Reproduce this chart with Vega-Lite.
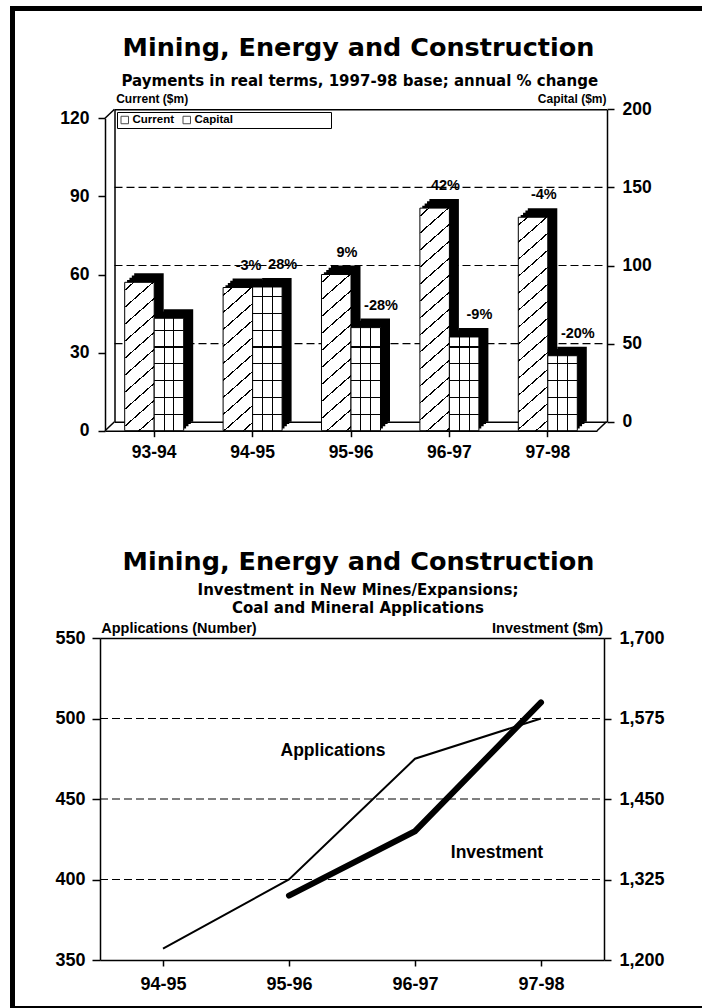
{
  "$schema": "https://vega.github.io/schema/vega-lite/v6.json",
  "autosize": {"type": "none"},
  "width": 690,
  "height": 1000,
  "padding": {"left": 12, "top": 8, "right": 0, "bottom": 0},
  "background": "white",
  "config": {
    "view": {"stroke": null},
    "axis": {"labelFont": "Liberation Sans", "labelFontWeight": "bold", "labelFontSize": 17.5, "labelColor": "black", "titleFont": "DejaVu Sans", "titleFontWeight": "bold", "titleColor": "black", "domainColor": "black", "domainWidth": 1.5, "tickColor": "black", "tickWidth": 1.5, "grid": false, "labelOverlap": false, "labelFlush": false, "labelBound": false, "titleAngle": 0},
    "text": {"font": "Liberation Sans", "fontWeight": "bold", "color": "black"}
  },
  "datasets": {
    "pay": [
      {"year": "93-94", "series": "Current", "value": 57, "pct": ""},
      {"year": "94-95", "series": "Current", "value": 55, "pct": "-3%"},
      {"year": "95-96", "series": "Current", "value": 60, "pct": "9%"},
      {"year": "96-97", "series": "Current", "value": 85.5, "pct": "42%"},
      {"year": "97-98", "series": "Current", "value": 82, "pct": "-4%"},
      {"year": "93-94", "series": "Capital", "value": 72, "pct": ""},
      {"year": "94-95", "series": "Capital", "value": 92, "pct": "28%"},
      {"year": "95-96", "series": "Capital", "value": 66, "pct": "-28%"},
      {"year": "96-97", "series": "Capital", "value": 60, "pct": "-9%"},
      {"year": "97-98", "series": "Capital", "value": 48, "pct": "-20%"}
    ],
    "grid1": [{"capital": 50}, {"capital": 100}, {"capital": 150}],
    "mines": [
      {"year": "94-95", "applications": 357, "investment": null},
      {"year": "95-96", "applications": 400, "investment": 1300},
      {"year": "96-97", "applications": 475, "investment": 1400},
      {"year": "97-98", "applications": 500, "investment": 1600}
    ],
    "grid2": [{"applications": 400}, {"applications": 450}, {"applications": 500}]
  },
  "layer": [
    {
      "layer": [
        {
          "data": {"values": [{}]},
          "mark": {"type": "rule", "strokeOpacity": 0},
          "encoding": {
            "x": {"datum": 0, "type": "quantitative", "scale": {"domain": [0, 1], "range": [0, 690], "nice": false, "zero": false}, "axis": {"orient": "top", "offset": 0, "ticks": false, "labels": false, "title": null, "domainWidth": 5, "domainCap": "square"}},
            "y": {"datum": 0, "type": "quantitative", "scale": {"domain": [0, 1], "range": [1000, 0], "nice": false, "zero": false}, "axis": {"orient": "left", "offset": 0, "ticks": false, "labels": false, "title": null, "domainWidth": 5, "domainCap": "square"}}
          }
        },
        {
          "data": {"values": [{}]},
          "mark": {"type": "rule", "strokeOpacity": 0},
          "encoding": {
            "x": {"datum": 0, "type": "quantitative", "scale": {"domain": [0, 1], "range": [0, 690], "nice": false, "zero": false}, "axis": {"orient": "bottom", "offset": 0, "ticks": false, "labels": false, "title": null, "domainWidth": 5, "domainCap": "square"}},
            "y": {"datum": 0, "type": "quantitative", "scale": {"domain": [0, 1], "range": [1000, 0], "nice": false, "zero": false}, "axis": null}
          }
        },
        {
          "data": {"name": "grid1"},
          "mark": {"type": "rule", "strokeDash": [8, 4], "color": "black", "strokeWidth": 1.2},
          "encoding": {
            "x": {"datum": 0, "type": "quantitative", "scale": {"domain": [0, 1], "range": [102.5, 594.5], "nice": false, "zero": false}, "axis": {"orient": "top", "offset": -101.3, "ticks": false, "labels": false, "title": "Mining, Energy and Construction", "titleFontSize": 25.5, "titleX": 346, "titleY": -62.3, "titleAlign": "center", "titleBaseline": "middle"}},
            "x2": {"datum": 1},
            "y": {"field": "capital", "type": "quantitative", "scale": {"domain": [0, 200], "range": [413.7, 101.3], "nice": false, "zero": false}, "axis": {"orient": "right", "offset": -95, "values": [0, 50, 100, 150, 200], "tickSize": 7, "labelPadding": 8, "title": "Capital ($m)", "titleFont": "Liberation Sans", "titleFontSize": 12, "titleX": -1, "titleY": 90, "titleAlign": "right", "titleBaseline": "middle"}}
          }
        },
        {
          "data": {"name": "grid1"},
          "mark": {"type": "rule", "strokeOpacity": 0},
          "encoding": {
            "x": {"datum": 0, "type": "quantitative", "scale": {"domain": [0, 1], "range": [102.5, 594.5], "nice": false, "zero": false}, "axis": {"orient": "bottom", "offset": -586.3, "ticks": false, "labels": false, "title": null}},
            "x2": {"datum": 1},
            "y": {"field": "capital", "type": "quantitative", "scale": {"domain": [0, 200], "range": [413.7, 101.3], "nice": false, "zero": false}, "axis": {"orient": "left", "offset": -102.5, "ticks": false, "labels": false, "title": "Payments in real terms, 1997-98 base; annual % change", "titleFontSize": 15, "titleX": 244.8, "titleY": 72, "titleAlign": "center", "titleBaseline": "middle"}}
          }
        },
        {
          "data": {"values": [{}]},
          "mark": {"type": "rule", "color": "black", "strokeWidth": 1.5},
          "encoding": {
            "x": {"datum": -0.01931, "type": "quantitative", "scale": {"domain": [0, 1], "range": [102.5, 594.5], "nice": false, "zero": false}, "axis": null},
            "x2": {"datum": 0},
            "y": {"datum": 194.24, "type": "quantitative", "scale": {"domain": [0, 200], "range": [413.7, 101.3], "nice": false, "zero": false}, "axis": null},
            "y2": {"datum": 200}
          }
        },
        {
          "data": {"values": [{}]},
          "mark": {"type": "rule", "color": "black", "strokeWidth": 1.5},
          "encoding": {
            "x": {"datum": -0.01931, "type": "quantitative", "scale": {"domain": [0, 1], "range": [102.5, 594.5], "nice": false, "zero": false}, "axis": null},
            "x2": {"datum": 0},
            "y": {"datum": -5.762, "type": "quantitative", "scale": {"domain": [0, 200], "range": [413.7, 101.3], "nice": false, "zero": false}, "axis": null},
            "y2": {"datum": 0}
          }
        },
        {
          "data": {"values": [{}]},
          "mark": {"type": "rule", "color": "black", "strokeWidth": 1.5},
          "encoding": {
            "x": {"datum": 0.98069, "type": "quantitative", "scale": {"domain": [0, 1], "range": [102.5, 594.5], "nice": false, "zero": false}, "axis": null},
            "x2": {"datum": 1},
            "y": {"datum": -5.762, "type": "quantitative", "scale": {"domain": [0, 200], "range": [413.7, 101.3], "nice": false, "zero": false}, "axis": null},
            "y2": {"datum": 0}
          }
        },
        {
          "data": {"name": "pay"},
          "transform": [{"filter": "datum.series === 'Current'"}],
          "mark": {"type": "bar", "color": "black"},
          "encoding": {
            "x": {"field": "year", "type": "nominal", "scale": {"type": "band", "domain": ["93-94", "94-95", "95-96", "96-97", "97-98"], "range": [115.075, 538.175], "paddingInner": 0.7002, "paddingOuter": 0}, "axis": null},
            "y": {"field": "value", "type": "quantitative", "scale": {"domain": [0, 120], "range": [420.45, 108.05], "nice": false}, "axis": null}
          }
        },
        {
          "data": {"name": "pay"},
          "transform": [{"filter": "datum.series === 'Current'"}],
          "mark": {"type": "bar", "color": "black"},
          "encoding": {
            "x": {"field": "year", "type": "nominal", "scale": {"type": "band", "domain": ["93-94", "94-95", "95-96", "96-97", "97-98"], "range": [117.45, 540.55], "paddingInner": 0.7002, "paddingOuter": 0}, "axis": null},
            "y": {"field": "value", "type": "quantitative", "scale": {"domain": [0, 120], "range": [418.2, 105.8], "nice": false}, "axis": null}
          }
        },
        {
          "data": {"name": "pay"},
          "transform": [{"filter": "datum.series === 'Current'"}],
          "mark": {"type": "bar", "color": "black"},
          "encoding": {
            "x": {"field": "year", "type": "nominal", "scale": {"type": "band", "domain": ["93-94", "94-95", "95-96", "96-97", "97-98"], "range": [119.825, 542.925], "paddingInner": 0.7002, "paddingOuter": 0}, "axis": null},
            "y": {"field": "value", "type": "quantitative", "scale": {"domain": [0, 120], "range": [415.95, 103.55], "nice": false}, "axis": null}
          }
        },
        {
          "data": {"name": "pay"},
          "transform": [{"filter": "datum.series === 'Current'"}],
          "mark": {"type": "bar", "color": "black"},
          "encoding": {
            "x": {"field": "year", "type": "nominal", "scale": {"type": "band", "domain": ["93-94", "94-95", "95-96", "96-97", "97-98"], "range": [122.2, 545.3], "paddingInner": 0.7002, "paddingOuter": 0}, "axis": null},
            "y": {"field": "value", "type": "quantitative", "scale": {"domain": [0, 120], "range": [413.7, 101.3], "nice": false}, "axis": null}
          }
        },
        {
          "data": {"name": "pay"},
          "transform": [{"filter": "datum.series === 'Capital'"}],
          "mark": {"type": "bar", "color": "black"},
          "encoding": {
            "x": {"field": "year", "type": "nominal", "scale": {"type": "band", "domain": ["93-94", "94-95", "95-96", "96-97", "97-98"], "range": [144.575, 567.675], "paddingInner": 0.7002, "paddingOuter": 0}, "axis": null},
            "y": {"field": "value", "type": "quantitative", "scale": {"domain": [0, 200], "range": [420.45, 108.05], "nice": false}, "axis": null}
          }
        },
        {
          "data": {"name": "pay"},
          "transform": [{"filter": "datum.series === 'Capital'"}],
          "mark": {"type": "bar", "color": "black"},
          "encoding": {
            "x": {"field": "year", "type": "nominal", "scale": {"type": "band", "domain": ["93-94", "94-95", "95-96", "96-97", "97-98"], "range": [146.95, 570.05], "paddingInner": 0.7002, "paddingOuter": 0}, "axis": null},
            "y": {"field": "value", "type": "quantitative", "scale": {"domain": [0, 200], "range": [418.2, 105.8], "nice": false}, "axis": null}
          }
        },
        {
          "data": {"name": "pay"},
          "transform": [{"filter": "datum.series === 'Capital'"}],
          "mark": {"type": "bar", "color": "black"},
          "encoding": {
            "x": {"field": "year", "type": "nominal", "scale": {"type": "band", "domain": ["93-94", "94-95", "95-96", "96-97", "97-98"], "range": [149.325, 572.425], "paddingInner": 0.7002, "paddingOuter": 0}, "axis": null},
            "y": {"field": "value", "type": "quantitative", "scale": {"domain": [0, 200], "range": [415.95, 103.55], "nice": false}, "axis": null}
          }
        },
        {
          "data": {"name": "pay"},
          "transform": [{"filter": "datum.series === 'Capital'"}],
          "mark": {"type": "bar", "color": "black"},
          "encoding": {
            "x": {"field": "year", "type": "nominal", "scale": {"type": "band", "domain": ["93-94", "94-95", "95-96", "96-97", "97-98"], "range": [151.7, 574.8], "paddingInner": 0.7002, "paddingOuter": 0}, "axis": null},
            "y": {"field": "value", "type": "quantitative", "scale": {"domain": [0, 200], "range": [413.7, 101.3], "nice": false}, "axis": null}
          }
        },
        {
          "data": {"name": "pay"},
          "transform": [{"filter": "datum.series === 'Current'"}],
          "mark": {"type": "bar", "stroke": "black", "strokeWidth": 1},
          "encoding": {
            "x": {"field": "year", "type": "nominal", "scale": {"type": "band", "domain": ["93-94", "94-95", "95-96", "96-97", "97-98"], "range": [112.7, 535.8], "paddingInner": 0.7002, "paddingOuter": 0}, "axis": null},
            "y": {"field": "value", "type": "quantitative", "scale": {"domain": [0, 120], "range": [422.7, 110.3], "nice": false}, "axis": {"orient": "left", "offset": -93, "values": [0, 30, 60, 90, 120], "tickSize": 7, "labelPadding": 9, "title": "Current ($m)", "titleFont": "Liberation Sans", "titleFontSize": 12, "titleX": 10.7, "titleY": 90, "titleAlign": "left", "titleBaseline": "middle"}},
            "fill": {
              "condition": [
                {"test": "datum.year === '93-94'", "value": {"gradient": "linear", "x1": 0, "y1": 0, "x2": 0.2864, "y2": 1.6345, "stops": [{"offset":0,"color":"#fff"},{"offset":0.0288,"color":"#fff"},{"offset":0.0288,"color":"#000"},{"offset":0.0352,"color":"#000"},{"offset":0.0352,"color":"#fff"},{"offset":0.0968,"color":"#fff"},{"offset":0.0968,"color":"#000"},{"offset":0.1032,"color":"#000"},{"offset":0.1032,"color":"#fff"},{"offset":0.1648,"color":"#fff"},{"offset":0.1648,"color":"#000"},{"offset":0.1712,"color":"#000"},{"offset":0.1712,"color":"#fff"},{"offset":0.2328,"color":"#fff"},{"offset":0.2328,"color":"#000"},{"offset":0.2392,"color":"#000"},{"offset":0.2392,"color":"#fff"},{"offset":0.3008,"color":"#fff"},{"offset":0.3008,"color":"#000"},{"offset":0.3072,"color":"#000"},{"offset":0.3072,"color":"#fff"},{"offset":0.3688,"color":"#fff"},{"offset":0.3688,"color":"#000"},{"offset":0.3752,"color":"#000"},{"offset":0.3752,"color":"#fff"},{"offset":0.4368,"color":"#fff"},{"offset":0.4368,"color":"#000"},{"offset":0.4432,"color":"#000"},{"offset":0.4432,"color":"#fff"},{"offset":0.5048,"color":"#fff"},{"offset":0.5048,"color":"#000"},{"offset":0.5112,"color":"#000"},{"offset":0.5112,"color":"#fff"},{"offset":0.5728,"color":"#fff"},{"offset":0.5728,"color":"#000"},{"offset":0.5792,"color":"#000"},{"offset":0.5792,"color":"#fff"},{"offset":0.6408,"color":"#fff"},{"offset":0.6408,"color":"#000"},{"offset":0.6472,"color":"#000"},{"offset":0.6472,"color":"#fff"},{"offset":0.7088,"color":"#fff"},{"offset":0.7088,"color":"#000"},{"offset":0.7152,"color":"#000"},{"offset":0.7152,"color":"#fff"},{"offset":1,"color":"#fff"}]}},
                {"test": "datum.year === '94-95'", "value": {"gradient": "linear", "x1": 0, "y1": 0, "x2": 0.3069, "y2": 1.69, "stops": [{"offset":0,"color":"#fff"},{"offset":0.0288,"color":"#fff"},{"offset":0.0288,"color":"#000"},{"offset":0.0352,"color":"#000"},{"offset":0.0352,"color":"#fff"},{"offset":0.0968,"color":"#fff"},{"offset":0.0968,"color":"#000"},{"offset":0.1032,"color":"#000"},{"offset":0.1032,"color":"#fff"},{"offset":0.1648,"color":"#fff"},{"offset":0.1648,"color":"#000"},{"offset":0.1712,"color":"#000"},{"offset":0.1712,"color":"#fff"},{"offset":0.2328,"color":"#fff"},{"offset":0.2328,"color":"#000"},{"offset":0.2392,"color":"#000"},{"offset":0.2392,"color":"#fff"},{"offset":0.3008,"color":"#fff"},{"offset":0.3008,"color":"#000"},{"offset":0.3072,"color":"#000"},{"offset":0.3072,"color":"#fff"},{"offset":0.3688,"color":"#fff"},{"offset":0.3688,"color":"#000"},{"offset":0.3752,"color":"#000"},{"offset":0.3752,"color":"#fff"},{"offset":0.4368,"color":"#fff"},{"offset":0.4368,"color":"#000"},{"offset":0.4432,"color":"#000"},{"offset":0.4432,"color":"#fff"},{"offset":0.5048,"color":"#fff"},{"offset":0.5048,"color":"#000"},{"offset":0.5112,"color":"#000"},{"offset":0.5112,"color":"#fff"},{"offset":0.5728,"color":"#fff"},{"offset":0.5728,"color":"#000"},{"offset":0.5792,"color":"#000"},{"offset":0.5792,"color":"#fff"},{"offset":0.6408,"color":"#fff"},{"offset":0.6408,"color":"#000"},{"offset":0.6472,"color":"#000"},{"offset":0.6472,"color":"#fff"},{"offset":1,"color":"#fff"}]}},
                {"test": "datum.year === '95-96'", "value": {"gradient": "linear", "x1": 0, "y1": 0, "x2": 0.2592, "y2": 1.5574, "stops": [{"offset":0,"color":"#fff"},{"offset":0.0288,"color":"#fff"},{"offset":0.0288,"color":"#000"},{"offset":0.0352,"color":"#000"},{"offset":0.0352,"color":"#fff"},{"offset":0.0968,"color":"#fff"},{"offset":0.0968,"color":"#000"},{"offset":0.1032,"color":"#000"},{"offset":0.1032,"color":"#fff"},{"offset":0.1648,"color":"#fff"},{"offset":0.1648,"color":"#000"},{"offset":0.1712,"color":"#000"},{"offset":0.1712,"color":"#fff"},{"offset":0.2328,"color":"#fff"},{"offset":0.2328,"color":"#000"},{"offset":0.2392,"color":"#000"},{"offset":0.2392,"color":"#fff"},{"offset":0.3008,"color":"#fff"},{"offset":0.3008,"color":"#000"},{"offset":0.3072,"color":"#000"},{"offset":0.3072,"color":"#fff"},{"offset":0.3688,"color":"#fff"},{"offset":0.3688,"color":"#000"},{"offset":0.3752,"color":"#000"},{"offset":0.3752,"color":"#fff"},{"offset":0.4368,"color":"#fff"},{"offset":0.4368,"color":"#000"},{"offset":0.4432,"color":"#000"},{"offset":0.4432,"color":"#fff"},{"offset":0.5048,"color":"#fff"},{"offset":0.5048,"color":"#000"},{"offset":0.5112,"color":"#000"},{"offset":0.5112,"color":"#fff"},{"offset":0.5728,"color":"#fff"},{"offset":0.5728,"color":"#000"},{"offset":0.5792,"color":"#000"},{"offset":0.5792,"color":"#fff"},{"offset":0.6408,"color":"#fff"},{"offset":0.6408,"color":"#000"},{"offset":0.6472,"color":"#000"},{"offset":0.6472,"color":"#fff"},{"offset":0.7088,"color":"#fff"},{"offset":0.7088,"color":"#000"},{"offset":0.7152,"color":"#000"},{"offset":0.7152,"color":"#fff"},{"offset":1,"color":"#fff"}]}},
                {"test": "datum.year === '96-97'", "value": {"gradient": "linear", "x1": 0, "y1": 0, "x2": 0.1294, "y2": 1.108, "stops": [{"offset":0,"color":"#fff"},{"offset":0.0288,"color":"#fff"},{"offset":0.0288,"color":"#000"},{"offset":0.0352,"color":"#000"},{"offset":0.0352,"color":"#fff"},{"offset":0.0968,"color":"#fff"},{"offset":0.0968,"color":"#000"},{"offset":0.1032,"color":"#000"},{"offset":0.1032,"color":"#fff"},{"offset":0.1648,"color":"#fff"},{"offset":0.1648,"color":"#000"},{"offset":0.1712,"color":"#000"},{"offset":0.1712,"color":"#fff"},{"offset":0.2328,"color":"#fff"},{"offset":0.2328,"color":"#000"},{"offset":0.2392,"color":"#000"},{"offset":0.2392,"color":"#fff"},{"offset":0.3008,"color":"#fff"},{"offset":0.3008,"color":"#000"},{"offset":0.3072,"color":"#000"},{"offset":0.3072,"color":"#fff"},{"offset":0.3688,"color":"#fff"},{"offset":0.3688,"color":"#000"},{"offset":0.3752,"color":"#000"},{"offset":0.3752,"color":"#fff"},{"offset":0.4368,"color":"#fff"},{"offset":0.4368,"color":"#000"},{"offset":0.4432,"color":"#000"},{"offset":0.4432,"color":"#fff"},{"offset":0.5048,"color":"#fff"},{"offset":0.5048,"color":"#000"},{"offset":0.5112,"color":"#000"},{"offset":0.5112,"color":"#fff"},{"offset":0.5728,"color":"#fff"},{"offset":0.5728,"color":"#000"},{"offset":0.5792,"color":"#000"},{"offset":0.5792,"color":"#fff"},{"offset":0.6408,"color":"#fff"},{"offset":0.6408,"color":"#000"},{"offset":0.6472,"color":"#000"},{"offset":0.6472,"color":"#fff"},{"offset":0.7088,"color":"#fff"},{"offset":0.7088,"color":"#000"},{"offset":0.7152,"color":"#000"},{"offset":0.7152,"color":"#fff"},{"offset":0.7768,"color":"#fff"},{"offset":0.7768,"color":"#000"},{"offset":0.7832,"color":"#000"},{"offset":0.7832,"color":"#fff"},{"offset":0.8448,"color":"#fff"},{"offset":0.8448,"color":"#000"},{"offset":0.8512,"color":"#000"},{"offset":0.8512,"color":"#fff"},{"offset":0.9128,"color":"#fff"},{"offset":0.9128,"color":"#000"},{"offset":0.9192,"color":"#000"},{"offset":0.9192,"color":"#fff"},{"offset":0.9808,"color":"#fff"},{"offset":0.9808,"color":"#000"},{"offset":0.9872,"color":"#000"},{"offset":0.9872,"color":"#fff"},{"offset":1,"color":"#fff"}]}}
              ],
              "value": {"gradient": "linear", "x1": 0, "y1": 0, "x2": 0.1406, "y2": 1.1544, "stops": [{"offset":0,"color":"#fff"},{"offset":0.0288,"color":"#fff"},{"offset":0.0288,"color":"#000"},{"offset":0.0352,"color":"#000"},{"offset":0.0352,"color":"#fff"},{"offset":0.0968,"color":"#fff"},{"offset":0.0968,"color":"#000"},{"offset":0.1032,"color":"#000"},{"offset":0.1032,"color":"#fff"},{"offset":0.1648,"color":"#fff"},{"offset":0.1648,"color":"#000"},{"offset":0.1712,"color":"#000"},{"offset":0.1712,"color":"#fff"},{"offset":0.2328,"color":"#fff"},{"offset":0.2328,"color":"#000"},{"offset":0.2392,"color":"#000"},{"offset":0.2392,"color":"#fff"},{"offset":0.3008,"color":"#fff"},{"offset":0.3008,"color":"#000"},{"offset":0.3072,"color":"#000"},{"offset":0.3072,"color":"#fff"},{"offset":0.3688,"color":"#fff"},{"offset":0.3688,"color":"#000"},{"offset":0.3752,"color":"#000"},{"offset":0.3752,"color":"#fff"},{"offset":0.4368,"color":"#fff"},{"offset":0.4368,"color":"#000"},{"offset":0.4432,"color":"#000"},{"offset":0.4432,"color":"#fff"},{"offset":0.5048,"color":"#fff"},{"offset":0.5048,"color":"#000"},{"offset":0.5112,"color":"#000"},{"offset":0.5112,"color":"#fff"},{"offset":0.5728,"color":"#fff"},{"offset":0.5728,"color":"#000"},{"offset":0.5792,"color":"#000"},{"offset":0.5792,"color":"#fff"},{"offset":0.6408,"color":"#fff"},{"offset":0.6408,"color":"#000"},{"offset":0.6472,"color":"#000"},{"offset":0.6472,"color":"#fff"},{"offset":0.7088,"color":"#fff"},{"offset":0.7088,"color":"#000"},{"offset":0.7152,"color":"#000"},{"offset":0.7152,"color":"#fff"},{"offset":0.7768,"color":"#fff"},{"offset":0.7768,"color":"#000"},{"offset":0.7832,"color":"#000"},{"offset":0.7832,"color":"#fff"},{"offset":0.8448,"color":"#fff"},{"offset":0.8448,"color":"#000"},{"offset":0.8512,"color":"#000"},{"offset":0.8512,"color":"#fff"},{"offset":0.9128,"color":"#fff"},{"offset":0.9128,"color":"#000"},{"offset":0.9192,"color":"#000"},{"offset":0.9192,"color":"#fff"},{"offset":1,"color":"#fff"}]}
            }
          }
        },
        {
          "data": {"name": "pay"},
          "transform": [{"filter": "datum.series === 'Capital'"}],
          "mark": {"type": "bar", "stroke": "black", "strokeWidth": 1, "fill": {"gradient": "linear", "x1": 0, "y1": 0, "x2": 1, "y2": 0, "stops": [{"offset":0,"color":"#fff"},{"offset":0.316,"color":"#fff"},{"offset":0.316,"color":"#000"},{"offset":0.35,"color":"#000"},{"offset":0.35,"color":"#fff"},{"offset":0.65,"color":"#fff"},{"offset":0.65,"color":"#000"},{"offset":0.684,"color":"#000"},{"offset":0.684,"color":"#fff"},{"offset":1,"color":"#fff"}]}},
          "encoding": {
            "x": {"field": "year", "type": "nominal", "scale": {"type": "band", "domain": ["93-94", "94-95", "95-96", "96-97", "97-98"], "range": [142.2, 565.3], "paddingInner": 0.7002, "paddingOuter": 0}, "axis": null},
            "y": {"field": "value", "type": "quantitative", "scale": {"domain": [0, 200], "range": [422.7, 110.3], "nice": false}, "axis": null}
          }
        },
        {
          "data": {"name": "pay"},
          "transform": [{"filter": "datum.series === 'Capital'"}],
          "mark": {"type": "bar", "strokeWidth": 0},
          "encoding": {
            "x": {"field": "year", "type": "nominal", "scale": {"type": "band", "domain": ["93-94", "94-95", "95-96", "96-97", "97-98"], "range": [142.2, 565.3], "paddingInner": 0.7002, "paddingOuter": 0}, "axis": null},
            "y": {"field": "value", "type": "quantitative", "scale": {"domain": [0, 200], "range": [422.7, 110.3], "nice": false}, "axis": null},
            "fill": {
              "condition": [
                {"test": "datum.year === '93-94'", "value": {"gradient": "linear", "x1": 0, "y1": 1, "x2": 0, "y2": -0.3339, "stops": [{"offset":0,"color":"rgba(0,0,0,0)"},{"offset":0.1053,"color":"rgba(0,0,0,0)"},{"offset":0.1053,"color":"#000"},{"offset":0.1133,"color":"#000"},{"offset":0.1133,"color":"rgba(0,0,0,0)"},{"offset":0.2173,"color":"rgba(0,0,0,0)"},{"offset":0.2173,"color":"#000"},{"offset":0.2253,"color":"#000"},{"offset":0.2253,"color":"rgba(0,0,0,0)"},{"offset":0.3293,"color":"rgba(0,0,0,0)"},{"offset":0.3293,"color":"#000"},{"offset":0.3373,"color":"#000"},{"offset":0.3373,"color":"rgba(0,0,0,0)"},{"offset":0.4413,"color":"rgba(0,0,0,0)"},{"offset":0.4413,"color":"#000"},{"offset":0.4493,"color":"#000"},{"offset":0.4493,"color":"rgba(0,0,0,0)"},{"offset":0.5533,"color":"rgba(0,0,0,0)"},{"offset":0.5533,"color":"#000"},{"offset":0.5613,"color":"#000"},{"offset":0.5613,"color":"rgba(0,0,0,0)"},{"offset":0.6653,"color":"rgba(0,0,0,0)"},{"offset":0.6653,"color":"#000"},{"offset":0.6733,"color":"#000"},{"offset":0.6733,"color":"rgba(0,0,0,0)"},{"offset":1,"color":"rgba(0,0,0,0)"}]}},
                {"test": "datum.year === '94-95'", "value": {"gradient": "linear", "x1": 0, "y1": 1, "x2": 0, "y2": -0.0439, "stops": [{"offset":0,"color":"rgba(0,0,0,0)"},{"offset":0.1053,"color":"rgba(0,0,0,0)"},{"offset":0.1053,"color":"#000"},{"offset":0.1133,"color":"#000"},{"offset":0.1133,"color":"rgba(0,0,0,0)"},{"offset":0.2173,"color":"rgba(0,0,0,0)"},{"offset":0.2173,"color":"#000"},{"offset":0.2253,"color":"#000"},{"offset":0.2253,"color":"rgba(0,0,0,0)"},{"offset":0.3293,"color":"rgba(0,0,0,0)"},{"offset":0.3293,"color":"#000"},{"offset":0.3373,"color":"#000"},{"offset":0.3373,"color":"rgba(0,0,0,0)"},{"offset":0.4413,"color":"rgba(0,0,0,0)"},{"offset":0.4413,"color":"#000"},{"offset":0.4493,"color":"#000"},{"offset":0.4493,"color":"rgba(0,0,0,0)"},{"offset":0.5533,"color":"rgba(0,0,0,0)"},{"offset":0.5533,"color":"#000"},{"offset":0.5613,"color":"#000"},{"offset":0.5613,"color":"rgba(0,0,0,0)"},{"offset":0.6653,"color":"rgba(0,0,0,0)"},{"offset":0.6653,"color":"#000"},{"offset":0.6733,"color":"#000"},{"offset":0.6733,"color":"rgba(0,0,0,0)"},{"offset":0.7773,"color":"rgba(0,0,0,0)"},{"offset":0.7773,"color":"#000"},{"offset":0.7853,"color":"#000"},{"offset":0.7853,"color":"rgba(0,0,0,0)"},{"offset":0.8893,"color":"rgba(0,0,0,0)"},{"offset":0.8893,"color":"#000"},{"offset":0.8973,"color":"#000"},{"offset":0.8973,"color":"rgba(0,0,0,0)"},{"offset":1,"color":"rgba(0,0,0,0)"}]}},
                {"test": "datum.year === '95-96'", "value": {"gradient": "linear", "x1": 0, "y1": 1, "x2": 0, "y2": -0.4552, "stops": [{"offset":0,"color":"rgba(0,0,0,0)"},{"offset":0.1053,"color":"rgba(0,0,0,0)"},{"offset":0.1053,"color":"#000"},{"offset":0.1133,"color":"#000"},{"offset":0.1133,"color":"rgba(0,0,0,0)"},{"offset":0.2173,"color":"rgba(0,0,0,0)"},{"offset":0.2173,"color":"#000"},{"offset":0.2253,"color":"#000"},{"offset":0.2253,"color":"rgba(0,0,0,0)"},{"offset":0.3293,"color":"rgba(0,0,0,0)"},{"offset":0.3293,"color":"#000"},{"offset":0.3373,"color":"#000"},{"offset":0.3373,"color":"rgba(0,0,0,0)"},{"offset":0.4413,"color":"rgba(0,0,0,0)"},{"offset":0.4413,"color":"#000"},{"offset":0.4493,"color":"#000"},{"offset":0.4493,"color":"rgba(0,0,0,0)"},{"offset":0.5533,"color":"rgba(0,0,0,0)"},{"offset":0.5533,"color":"#000"},{"offset":0.5613,"color":"#000"},{"offset":0.5613,"color":"rgba(0,0,0,0)"},{"offset":1,"color":"rgba(0,0,0,0)"}]}},
                {"test": "datum.year === '96-97'", "value": {"gradient": "linear", "x1": 0, "y1": 1, "x2": 0, "y2": -0.6007, "stops": [{"offset":0,"color":"rgba(0,0,0,0)"},{"offset":0.1053,"color":"rgba(0,0,0,0)"},{"offset":0.1053,"color":"#000"},{"offset":0.1133,"color":"#000"},{"offset":0.1133,"color":"rgba(0,0,0,0)"},{"offset":0.2173,"color":"rgba(0,0,0,0)"},{"offset":0.2173,"color":"#000"},{"offset":0.2253,"color":"#000"},{"offset":0.2253,"color":"rgba(0,0,0,0)"},{"offset":0.3293,"color":"rgba(0,0,0,0)"},{"offset":0.3293,"color":"#000"},{"offset":0.3373,"color":"#000"},{"offset":0.3373,"color":"rgba(0,0,0,0)"},{"offset":0.4413,"color":"rgba(0,0,0,0)"},{"offset":0.4413,"color":"#000"},{"offset":0.4493,"color":"#000"},{"offset":0.4493,"color":"rgba(0,0,0,0)"},{"offset":0.5533,"color":"rgba(0,0,0,0)"},{"offset":0.5533,"color":"#000"},{"offset":0.5613,"color":"#000"},{"offset":0.5613,"color":"rgba(0,0,0,0)"},{"offset":1,"color":"rgba(0,0,0,0)"}]}}
              ],
              "value": {"gradient": "linear", "x1": 0, "y1": 1, "x2": 0, "y2": -1.0008, "stops": [{"offset":0,"color":"rgba(0,0,0,0)"},{"offset":0.1053,"color":"rgba(0,0,0,0)"},{"offset":0.1053,"color":"#000"},{"offset":0.1133,"color":"#000"},{"offset":0.1133,"color":"rgba(0,0,0,0)"},{"offset":0.2173,"color":"rgba(0,0,0,0)"},{"offset":0.2173,"color":"#000"},{"offset":0.2253,"color":"#000"},{"offset":0.2253,"color":"rgba(0,0,0,0)"},{"offset":0.3293,"color":"rgba(0,0,0,0)"},{"offset":0.3293,"color":"#000"},{"offset":0.3373,"color":"#000"},{"offset":0.3373,"color":"rgba(0,0,0,0)"},{"offset":0.4413,"color":"rgba(0,0,0,0)"},{"offset":0.4413,"color":"#000"},{"offset":0.4493,"color":"#000"},{"offset":0.4493,"color":"rgba(0,0,0,0)"},{"offset":1,"color":"rgba(0,0,0,0)"}]}
            }
          }
        },
        {
          "data": {"name": "pay"},
          "transform": [{"filter": "datum.series === 'Current'"}],
          "mark": {"type": "text", "dx": -4, "dy": -22, "fontSize": 14.5, "align": "center", "baseline": "middle"},
          "encoding": {
            "x": {"field": "year", "type": "nominal", "scale": {"type": "band", "domain": ["93-94", "94-95", "95-96", "96-97", "97-98"], "range": [93, 585], "paddingInner": 0, "paddingOuter": 0}, "axis": {"orient": "bottom", "offset": -577.3, "tickSize": 6, "labelPadding": 7, "labelAngle": 0, "title": null}},
            "y": {"field": "value", "type": "quantitative", "scale": {"domain": [0, 120], "range": [422.7, 110.3], "nice": false}, "axis": null},
            "text": {"field": "pct"}
          }
        },
        {
          "data": {"name": "pay"},
          "transform": [{"filter": "datum.series === 'Capital'"}],
          "mark": {"type": "text", "dx": 30, "dy": -22, "fontSize": 14.5, "align": "center", "baseline": "middle"},
          "encoding": {
            "x": {"field": "year", "type": "nominal", "scale": {"type": "band", "domain": ["93-94", "94-95", "95-96", "96-97", "97-98"], "range": [93, 585], "paddingInner": 0, "paddingOuter": 0}, "axis": null},
            "y": {"field": "value", "type": "quantitative", "scale": {"domain": [0, 200], "range": [422.7, 110.3], "nice": false}, "axis": null},
            "text": {"field": "pct"}
          }
        },
        {
          "data": {"name": "pay"},
          "transform": [{"filter": "false"}],
          "mark": {"type": "point", "shape": "square", "filled": false},
          "encoding": {
            "stroke": {"field": "series", "type": "nominal", "scale": {"domain": ["Current", "Capital"], "range": ["black", "black"]}, "legend": {"orient": "none", "legendX": 105, "legendY": 104, "direction": "horizontal", "title": "xxxxxxxxxxxxxxx", "titleOrient": "right", "titleColor": "white", "titleFont": "Liberation Sans", "titleFontSize": 11.5, "titlePadding": 0, "strokeColor": "black", "fillColor": "white", "padding": 2, "symbolType": "square", "symbolSize": 56, "symbolStrokeWidth": 1, "symbolStrokeColor": "black", "symbolFillColor": "white", "labelFont": "Liberation Sans", "labelFontSize": 11.5, "labelFontWeight": "bold", "labelColor": "black", "labelLimit": 0, "columnPadding": 6, "labelOffset": 2}}
          }
        }
      ],
      "resolve": {"scale": {"x": "independent", "y": "independent"}}
    },
    {
      "layer": [
        {
          "data": {"name": "grid2"},
          "mark": {"type": "rule", "strokeDash": [8, 4], "color": "black", "strokeWidth": 1.2},
          "encoding": {
            "x": {"datum": 0, "type": "quantitative", "scale": {"domain": [0, 1], "range": [88, 592], "nice": false, "zero": false}, "axis": {"orient": "top", "offset": -630, "ticks": false, "labels": false, "title": "Mining, Energy and Construction", "titleFontSize": 25.5, "titleX": 346, "titleY": -76.3, "titleAlign": "center", "titleBaseline": "middle"}},
            "x2": {"datum": 1},
            "y": {"field": "applications", "type": "quantitative", "scale": {"domain": [350, 550], "range": [952, 630], "nice": false, "zero": false}, "axis": {"orient": "right", "offset": -98, "domain": false, "ticks": false, "labels": false, "title": ["Investment in New Mines/Expansions;", "Coal and Mineral Applications"], "titleFontSize": 15, "titleLineHeight": 18, "titleX": -246.5, "titleY": 581.3, "titleAlign": "center", "titleBaseline": "middle"}}
          }
        },
        {
          "data": {"name": "mines"},
          "mark": {"type": "line", "color": "black", "strokeWidth": 2},
          "encoding": {
            "x": {"field": "year", "type": "ordinal", "scale": {"type": "point", "domain": ["94-95", "95-96", "96-97", "97-98"], "range": [88, 592], "padding": 0.5}, "axis": {"orient": "bottom", "offset": -48, "tickSize": 6, "labelPadding": 9, "labelAngle": 0, "labelFontSize": 18, "title": null}},
            "y": {"field": "applications", "type": "quantitative", "scale": {"domain": [350, 550], "range": [952, 630], "nice": false, "zero": false}, "axis": {"orient": "left", "offset": -88, "values": [350, 400, 450, 500, 550], "tickSize": 8, "labelPadding": 7, "labelFontSize": 18, "title": "Applications (Number)", "titleFont": "Liberation Sans", "titleFontSize": 14.5, "titleX": 0.7, "titleY": 620, "titleAlign": "left", "titleBaseline": "middle"}}
          }
        },
        {
          "data": {"name": "mines"},
          "mark": {"type": "line", "color": "black", "strokeWidth": 6, "strokeCap": "round"},
          "encoding": {
            "x": {"field": "year", "type": "ordinal", "scale": {"type": "point", "domain": ["94-95", "95-96", "96-97", "97-98"], "range": [88, 592], "padding": 0.5}, "axis": null},
            "y": {"field": "investment", "type": "quantitative", "scale": {"domain": [1200, 1700], "range": [952, 630], "nice": false, "zero": false}, "axis": {"orient": "right", "offset": -98, "values": [1200, 1325, 1450, 1575, 1700], "format": ",d", "tickSize": 7, "labelPadding": 8, "labelFontSize": 18, "title": "Investment ($m)", "titleFont": "Liberation Sans", "titleFontSize": 14.5, "titleX": -1.3, "titleY": 620, "titleAlign": "right", "titleBaseline": "middle"}}
          }
        },
        {
          "data": {"name": "mines"},
          "transform": [{"filter": "datum.year === '96-97'"}],
          "mark": {"type": "text", "text": "Applications", "dx": -82, "dy": -8, "fontSize": 17.5, "align": "center", "baseline": "middle"},
          "encoding": {
            "x": {"field": "year", "type": "ordinal", "scale": {"type": "point", "domain": ["94-95", "95-96", "96-97", "97-98"], "range": [88, 592], "padding": 0.5}, "axis": null},
            "y": {"field": "applications", "type": "quantitative", "scale": {"domain": [350, 550], "range": [952, 630], "nice": false, "zero": false}, "axis": null}
          }
        },
        {
          "data": {"name": "mines"},
          "transform": [{"filter": "datum.year === '96-97'"}],
          "mark": {"type": "text", "text": "Investment", "dx": 82, "dy": 22, "fontSize": 17.5, "align": "center", "baseline": "middle"},
          "encoding": {
            "x": {"field": "year", "type": "ordinal", "scale": {"type": "point", "domain": ["94-95", "95-96", "96-97", "97-98"], "range": [88, 592], "padding": 0.5}, "axis": null},
            "y": {"field": "investment", "type": "quantitative", "scale": {"domain": [1200, 1700], "range": [952, 630], "nice": false, "zero": false}, "axis": null}
          }
        }
      ],
      "resolve": {"scale": {"x": "independent", "y": "independent"}}
    }
  ],
  "resolve": {"scale": {"x": "independent", "y": "independent"}}
}
